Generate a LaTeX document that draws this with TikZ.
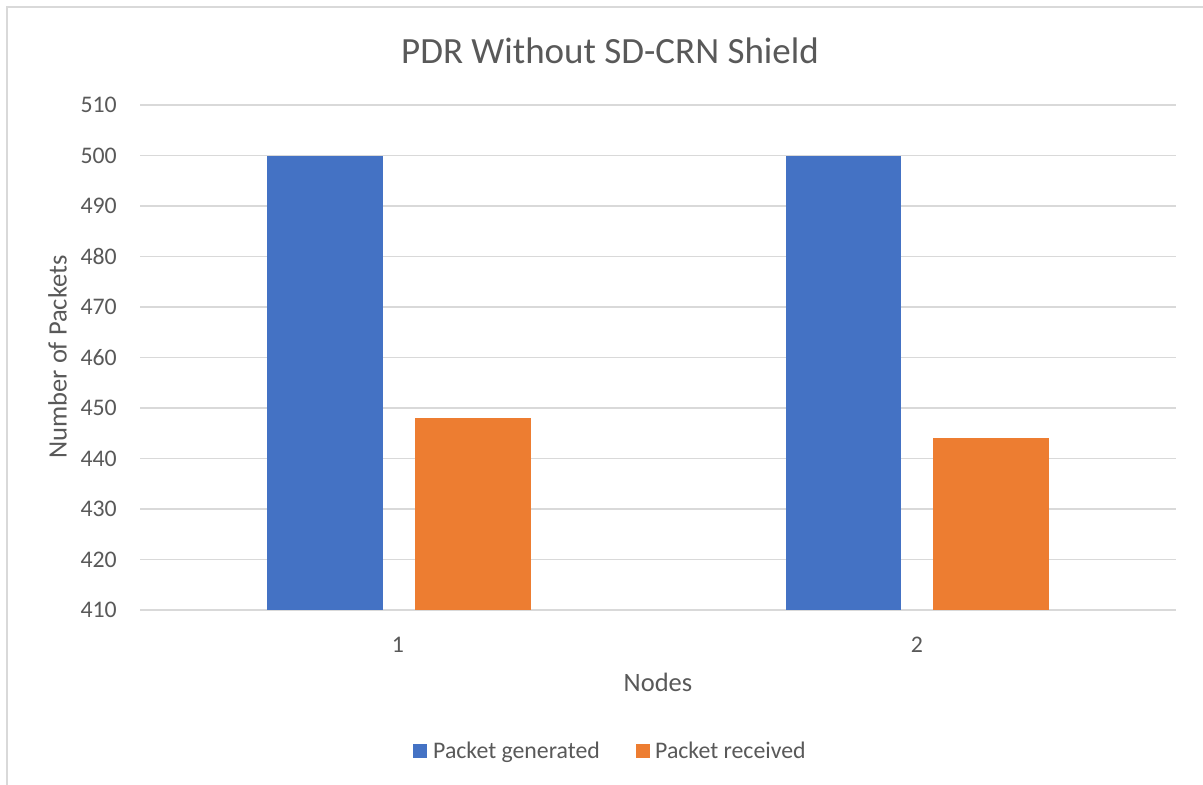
\documentclass[tikz,border=0pt]{standalone}
\usepackage{fontspec}
\setmainfont{Carlito}
\definecolor{gridgray}{HTML}{D9D9D9}
\definecolor{textgray}{HTML}{595959}
\definecolor{genblue}{HTML}{4472C4}
\definecolor{recvorange}{HTML}{ED7D31}
\tikzset{
  gridline/.style={draw=gridgray, line width=1.5pt},
  frameline/.style={draw=gridgray, line width=1.4pt},
  ticklabel/.style={text=textgray, inner sep=0pt, font=\fontsize{23.8}{28}\selectfont},
  axistitle/.style={text=textgray, inner sep=0pt, font=\fontsize{26.5}{31}\selectfont},
  charttitle/.style={text=textgray, inner sep=0pt, font=\fontsize{37}{44}\selectfont},
  legendtext/.style={text=textgray, inner sep=0pt, font=\fontsize{23.8}{28}\selectfont},
  genbar/.style={fill=genblue},
  recvbar/.style={fill=recvorange},
}
\begin{document}
\begin{tikzpicture}[x=1pt, y=-1pt]
  \useasboundingbox (0,0) rectangle (1203,785);
  \fill[white] (0,0) rectangle (1203,785);

  % chart area frame (left and top edges)
  \draw[frameline] (7,785) -- (7,7) -- (1203,7);

  % horizontal gridlines and value labels, 410 to 510 in steps of 10
  \foreach \v [count=\i from 0] in {410,420,...,510} {
    \pgfmathsetmacro{\yy}{610-50.5*\i}
    \draw[gridline] (140,\yy) -- (1176,\yy);
    \node[ticklabel, anchor=east] (tick\v) at (117,\yy) {\v};
  }

  % bars: value v sits at y = 610 - 5.05*(v-410)
  \fill[genbar]  (267,610) rectangle (383,156);
  \fill[recvbar] (415,610) rectangle (531,418.1);
  \fill[genbar]  (786,610) rectangle (901,156);
  \fill[recvbar] (933,610) rectangle (1049,438.3);

  % category labels
  \node[ticklabel] (cat1) at (398,645) {1};
  \node[ticklabel] (cat2) at (917,645) {2};

  % titles
  \node[charttitle, anchor=base] (title) at (610,63) {PDR Without SD-CRN Shield};
  \node[axistitle] (xtitle) at (658,682) {Nodes};
  \node[axistitle, rotate=90] (ytitle) at (57.5,357) {Number of Packets};

  % legend
  \fill[genblue] (413,744) rectangle (427,758);
  \node[legendtext, anchor=base west] (leggen) at (433,758) {Packet generated};
  \fill[recvorange] (636,744) rectangle (650,758);
  \node[legendtext, anchor=base west] (legrecv) at (655,758) {Packet received};
\end{tikzpicture}
\end{document}
